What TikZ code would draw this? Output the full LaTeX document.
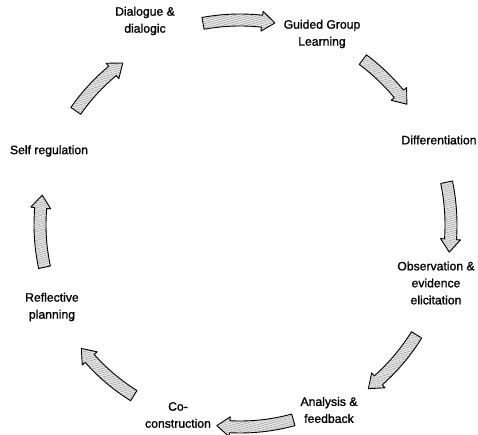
\documentclass[tikz,border=0pt]{standalone}
\usepackage{fontspec}
\setmainfont{Liberation Sans}
\newfontfamily\stagefont[FakeBold=1.2]{Liberation Sans}
\usetikzlibrary{calc,patterns.meta}

% Hatched block arrow along an arc around (O):
% #1 radius, #2 start angle, #3 tip angle (angles run clockwise on the page)
\newcommand{\cyclearrow}[3]{%
  \pgfmathsetmacro{\ahd}{#3-13/#1*57.2958}%
  \pgfmathsetmacro{\rout}{#1+6}%
  \pgfmathsetmacro{\rin}{#1-6}%
  \pgfmathsetmacro{\hout}{#1+10}%
  \pgfmathsetmacro{\hin}{#1-10}%
  \path[cyclebody]
    ($(O)+(#2:\rout)$) arc[start angle=#2, end angle=\ahd, radius=\rout]
    -- ($(O)+(\ahd:\hout)$) -- ($(O)+(#3:#1)$) -- ($(O)+(\ahd:\hin)$)
    -- ($(O)+(\ahd:\rin)$) arc[start angle=\ahd, end angle=#2, radius=\rin]
    -- cycle;
}

\tikzset{
  stage/.style={align=center, inner sep=0pt,
    font=\stagefont\fontsize{12.2}{17}\selectfont, text=black},
  cyclebody/.style={fill=gray!18,
    postaction={pattern={Lines[angle=15,distance=2.1pt,line width=0.5pt]},
                pattern color=gray!80},
    postaction={draw=black, line width=0.9pt, line join=round}},
}

\begin{document}
\begin{tikzpicture}[x=1pt, y=-1pt]
  \useasboundingbox[fill=white] (0,0) rectangle (478,435);
  \coordinate (O) at (240,225);

  % stages of the cycle
  \node[stage] (dialogue) at (145,21)  {Dialogue \&\\dialogic};
  \node[stage] (guided)   at (322,34)  {Guided Group\\Learning};
  \node[stage] (diff)     at (439,140) {Differentiation};
  \node[stage] (observe)  at (436,283) {Observation \&\\evidence\\elicitation};
  \node[stage] (analysis) at (329,410) {Analysis \&\\feedback};
  \node[stage] (cocons)   at (178,415) {Co-\\construction};
  \node[stage] (reflect)  at (52,307)  {Reflective\\planning};
  \node[stage] (selfreg)  at (49,151)  {Self regulation};

  % arrows between the stages, running clockwise
  \cyclearrow{205}{259.6}{279.8}   % dialogue -> guided
  \cyclearrow{206}{-53.4}{-35.9}   % guided -> diff
  \cyclearrow{211}{-11.7}{7.4}     % diff -> observe
  \cyclearrow{208}{31.9}{51.9}     % observe -> analysis
  \cyclearrow{202}{74.7}{96.6}     % analysis -> cocons
  \cyclearrow{201}{121.9}{142.1}   % cocons -> reflect
  \cyclearrow{200}{167.8}{188.6}   % reflect -> selfreg
  \cyclearrow{200}{214.8}{234.1}   % selfreg -> dialogue
\end{tikzpicture}
\end{document}
